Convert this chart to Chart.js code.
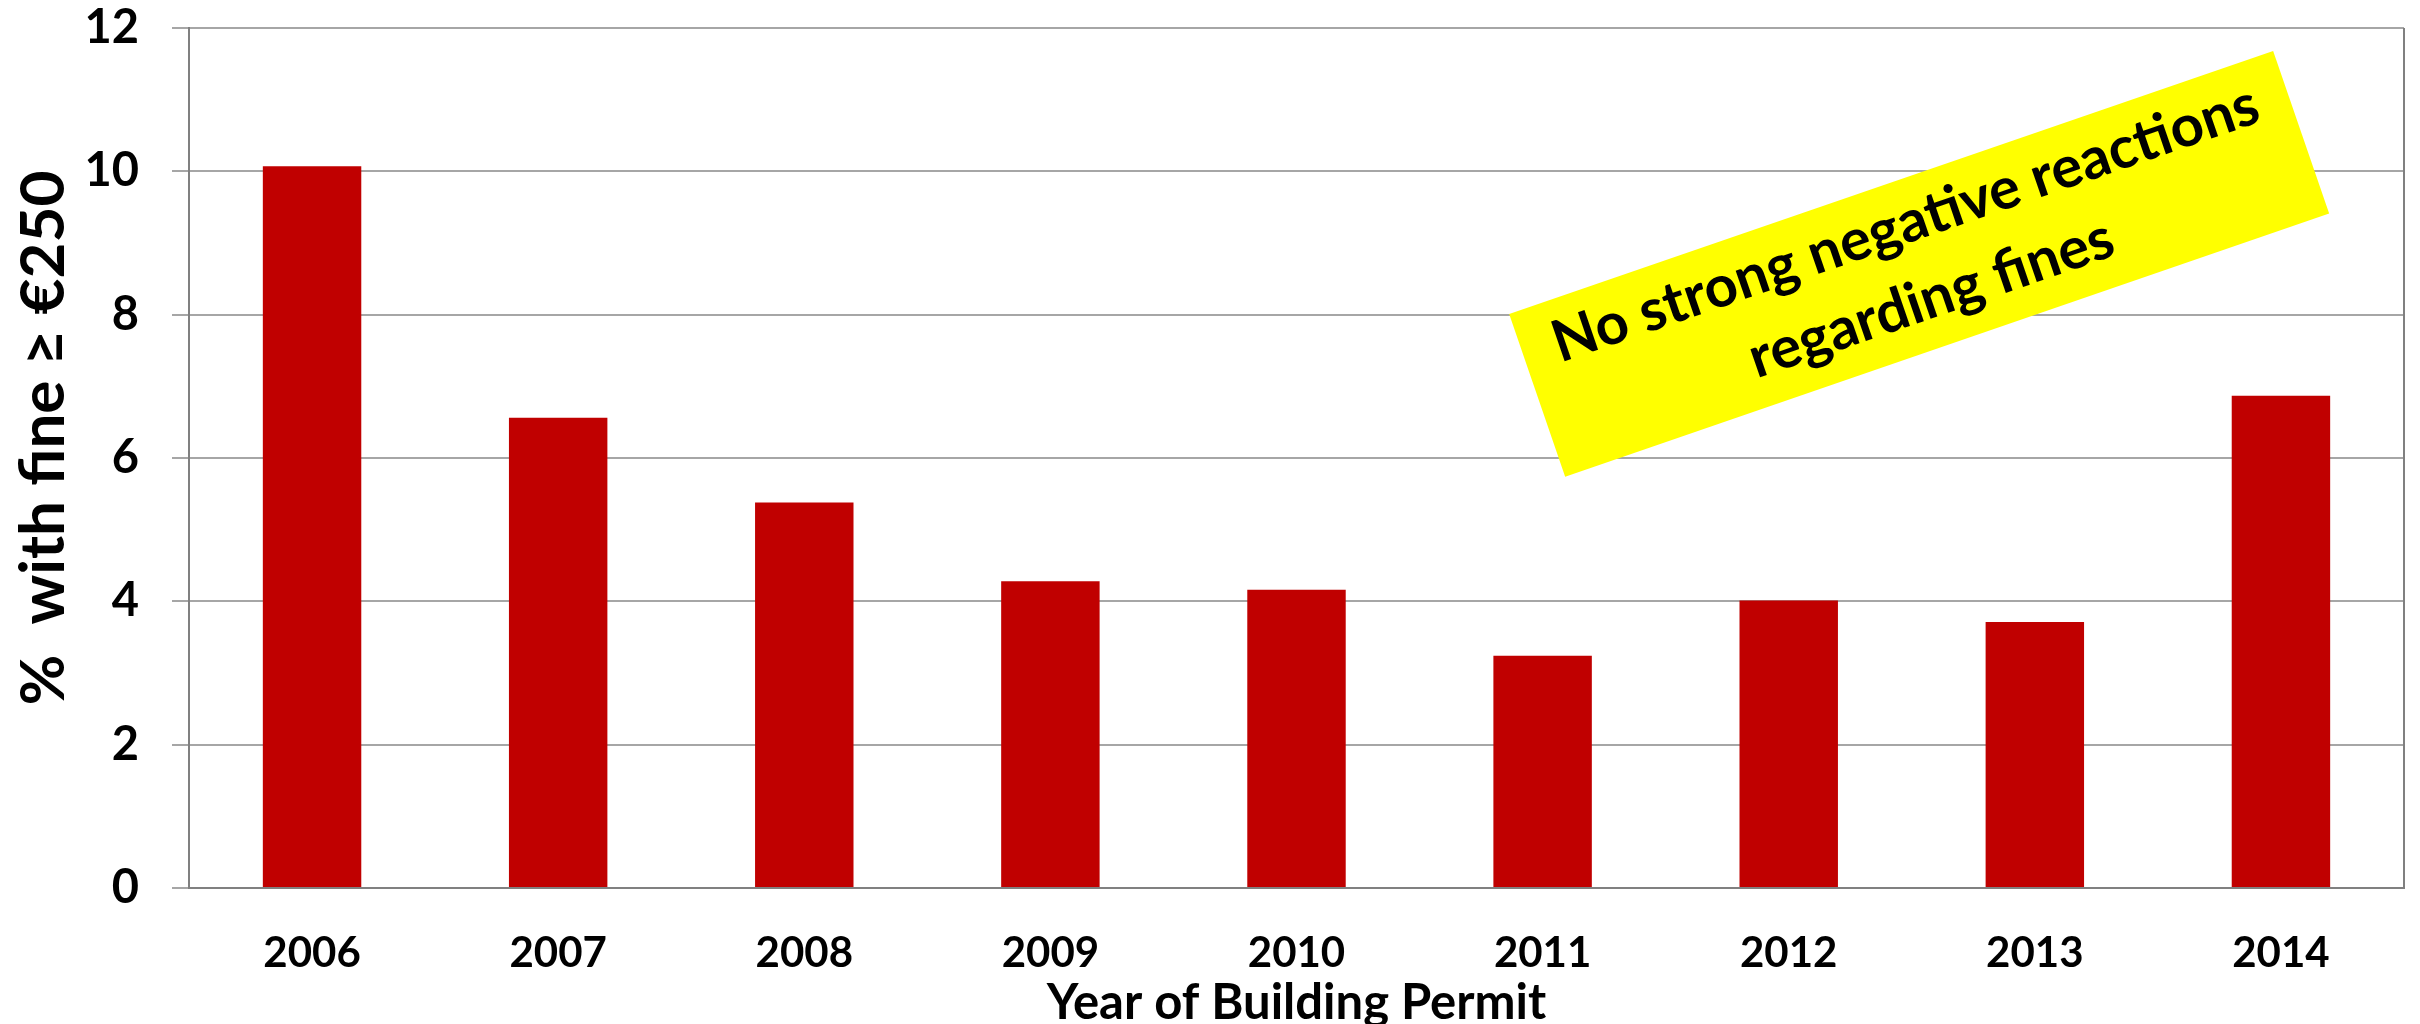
<!DOCTYPE html>
<html>
<head>
<meta charset="utf-8">
<title>% with fine by year of building permit</title>
<script src="https://cdn.jsdelivr.net/npm/chart.js@4.4.1/dist/chart.umd.min.js"></script>
<style>
  html, body { margin: 0; padding: 0; background: #ffffff; }
  #wrap { width: 2420px; height: 1024px; }
</style>
</head>
<body>
<div id="wrap"><canvas id="fineChart"></canvas></div>
<script>
// --- data ---
const years = ['2006', '2007', '2008', '2009', '2010', '2011', '2012', '2013', '2014'];
const pctWithFine = [10.07, 6.56, 5.38, 4.28, 4.16, 3.24, 4.01, 3.71, 6.87];
const yTickValues = [0, 2, 4, 6, 8, 10, 12];
const yAxisTitle = '%  with fine \u2265 \u20ac250';
const xAxisTitle = 'Year of Building Permit';
const noteLines = ['No strong negative reactions', 'regarding fines'];

const FONT = 'Lato';
const AXIS_GREY = '#808080';
const GRID_GREY = '#a6a6a6';

// plot-area right border, y title (sits a bit above centre in the reference) and the yellow call-out
const framePlugin = {
    id: 'frame',
    beforeDatasetsDraw(chart) {
        const { ctx, chartArea } = chart;
        ctx.save();
        ctx.strokeStyle = AXIS_GREY;
        ctx.lineWidth = 2;
        ctx.beginPath();
        ctx.moveTo(chartArea.right, chartArea.top);
        ctx.lineTo(chartArea.right, chartArea.bottom);
        ctx.stroke();
        ctx.restore();
    },
    afterDraw(chart) {
        const { ctx, scales, chartArea } = chart;

        // y axis title
        ctx.save();
        ctx.translate(44, (chartArea.top + chartArea.bottom) / 2 - 20);
        ctx.rotate(-Math.PI / 2);
        ctx.fillStyle = '#000000';
        ctx.font = `bold 62px ${FONT}`;
        ctx.textAlign = 'center';
        ctx.textBaseline = 'middle';
        ctx.fillText(yAxisTitle, 0, 0);
        ctx.restore();

        // anchor the call-out in data units so it follows the scales
        const cx = scales.x.getPixelForValue(6.53);
        const cy = scales.y.getPixelForValue(8.71);
        ctx.save();
        ctx.translate(cx, cy);
        ctx.rotate(-19 * Math.PI / 180);
        ctx.fillStyle = '#ffff00';
        ctx.fillRect(-404, -86, 808, 172);
        ctx.fillStyle = '#000000';
        ctx.font = `bold 58px ${FONT}`;
        ctx.textAlign = 'center';
        ctx.textBaseline = 'middle';
        ctx.fillText(noteLines[0], 0, -42);
        ctx.fillText(noteLines[1], 0, 37);
        ctx.restore();
    }
};

const ctx = document.getElementById('fineChart').getContext('2d');

const fineChart = new Chart(ctx, {
    type: 'bar',
    data: {
        labels: years,
        datasets: [{
            label: yAxisTitle,
            data: pctWithFine,
            backgroundColor: '#c00000',
            borderWidth: 0,
            barPercentage: 0.4,
            categoryPercentage: 1.0
        }]
    },
    options: {
        responsive: true, maintainAspectRatio: false,
        devicePixelRatio: 1,
        animation: false,
        layout: { padding: { top: 0, right: 16, bottom: 0, left: 0 } },
        scales: {
            x: {
                grid: { display: false, drawTicks: false },
                border: { display: true, color: AXIS_GREY, width: 2 },
                ticks: { color: '#000', padding: 40, font: { family: FONT, size: 42, weight: 'bold' } },
                title: {
                    display: true, text: xAxisTitle, color: '#000',
                    padding: { top: 0, bottom: -9 },
                    font: { family: FONT, size: 49, weight: 'bold' }
                },
                afterFit: axis => { axis.height = 136; }
            },
            y: {
                min: 0, max: 12,
                afterBuildTicks: axis => { axis.ticks = yTickValues.map(v => ({ value: v })); },
                grid: { color: GRID_GREY, lineWidth: 2, tickLength: 17, drawTicks: true },
                border: { display: true, color: AXIS_GREY, width: 2 },
                ticks: { color: '#000', padding: 33, font: { family: FONT, size: 47, weight: 'bold' } },
                title: { display: false },
                afterFit: axis => {
                    axis.width = 189;
                    // plot top sits 28px below the canvas edge, as in the reference
                    axis.paddingTop = 28;
                    axis.paddingBottom = 0;
                }
            }
        },
        plugins: {
            legend: { display: false },
            tooltip: { enabled: false }
        }
    },
    plugins: [framePlugin]
});
</script>
</body>
</html>
